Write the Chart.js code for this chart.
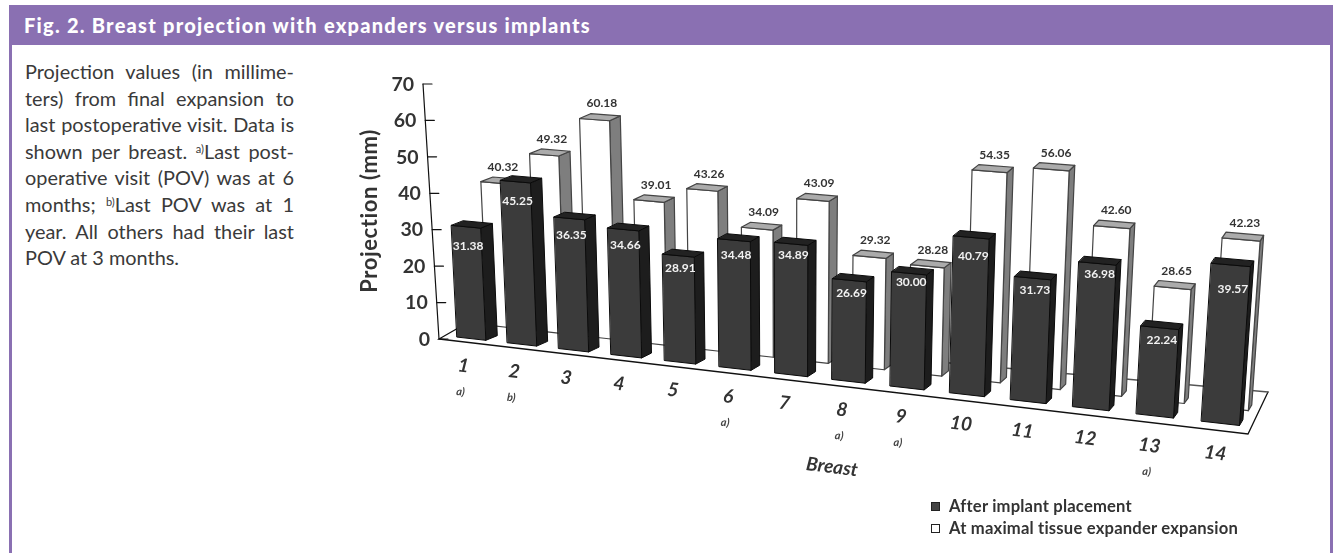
<!DOCTYPE html>
<html><head><meta charset="utf-8">
<script src="https://cdn.jsdelivr.net/npm/chart.js@4"></script>
<style>
html,body{margin:0;padding:0;background:#fff;width:1335px;height:553px;overflow:hidden;font-family:Lato,sans-serif;color:#333}
#frame{position:absolute;left:9px;top:5px;width:1324px;height:560px;box-sizing:border-box;border-left:3px solid #8a70b2;border-right:3px solid #8a70b2}
#head{position:absolute;left:9px;top:5px;width:1324px;height:40px;background:#8a70b2;color:#fff;font-weight:900;font-size:20px;line-height:40px;letter-spacing:1.25px;text-indent:15px}
#note{position:absolute;left:25px;top:58px;width:269px;font-size:19.9px;line-height:26.6px;color:#3a3a3a}
#note div{text-align:justify;text-align-last:justify;white-space:nowrap}
#note div.l{text-align-last:left}
#note sup{font-size:11px;line-height:0;vertical-align:6px}
canvas{position:absolute;left:0;top:0}
#legend{position:absolute;left:931px;top:495px;font-size:16.6px;font-weight:700;line-height:22px;color:#333;letter-spacing:.2px}
#legend i{display:inline-block;width:7px;height:7px;border:1px solid #222;margin-right:9px;vertical-align:1px}
</style></head><body>
<div id="frame"></div>
<div id="head">Fig. 2. Breast projection with expanders versus implants</div>
<div id="note">
<div>Projection values (in millime-</div>
<div>ters) from final expansion to</div>
<div>last postoperative visit. Data is</div>
<div>shown per breast. <sup>a)</sup>Last post-</div>
<div>operative visit (POV) was at 6</div>
<div>months; <sup>b)</sup>Last POV was at 1</div>
<div>year. All others had their last</div>
<div class="l">POV at 3 months.</div>
</div>
<canvas id="c" width="1335" height="553"></canvas>
<div id="legend">
<div><i style="background:#444"></i>After implant placement</div>
<div><i style="background:#fff"></i>At maximal tissue expander expansion</div>
</div>
<script>
const breasts = ["1","2","3","4","5","6","7","8","9","10","11","12","13","14"];
const footnotes = ["a)","b)","","","","a)","","a)","a)","","","","a)",""];
const afterImplant = [31.38,45.25,36.35,34.66,28.91,34.48,34.89,26.69,30.00,40.79,31.73,36.98,22.24,39.57];
const atExpansion = [40.32,49.32,60.18,39.01,43.26,34.09,43.09,29.32,28.28,54.35,56.06,42.60,28.65,42.23];
const yTicks = [0,10,20,30,40,50,60,70];

/* view settings of the pseudo-3D projection */
const labelDrop = [21,21,18,17,14,16,13,14,10,20,14,12,14,26];
const FL=[439,339],FR=[1248,434],BR=[1268,392],BL=[473,319.5];
const FONT='Lato, sans-serif';
const C=0.14, SHIFT=0.0025, INSET=0.17, DEPTH=0.33, BACK=0.85, VX=790, VY=7000;
const warp=u=>u*(1-C)/(1-C*u);
const lerp=(a,b,t)=>a+(b-a)*t;

const projector3D={
  id:'projector3D',
  beforeDatasetsDraw(chart){
    const {ctx,chartArea:A,scales:{x:xs,y:ys}}=chart;
    const W=A.right-A.left;
    const frontL=[lerp(FL[0],BL[0],INSET),lerp(FL[1],BL[1],INSET)];
    const frontR=[lerp(FR[0],BR[0],INSET),lerp(FR[1],BR[1],INSET)];
    function pt(u,d,h){
      const f=warp(u);
      const bx=lerp(frontL[0],frontR[0],f)+d*lerp(36,10,f);
      const by=lerp(frontL[1],frontR[1],f)+d*lerp(-14,-17.5,f);
      const hh=h*(0.975+0.129*f);
      return [bx+(bx-VX)*hh/(VY-by),by-hh];
    }
    const poly=(pts,fill,stroke,lw)=>{
      ctx.beginPath();pts.forEach((p,i)=>i?ctx.lineTo(p[0],p[1]):ctx.moveTo(p[0],p[1]));ctx.closePath();
      ctx.fillStyle=fill;ctx.fill();
      if(stroke){ctx.strokeStyle=stroke;ctx.lineWidth=lw;ctx.lineJoin='round';ctx.stroke();}
    };
    function prism(el,d0,cols){
      const uL=(el.x-el.width/2-A.left)/W+SHIFT,uR=(el.x+el.width/2-A.left)/W+SHIFT,h=el.base-el.y,d1=d0+DEPTH;
      poly([pt(uR,d0,0),pt(uR,d1,0),pt(uR,d1,h),pt(uR,d0,h)],cols.side,cols.line,cols.lw);
      poly([pt(uL,d0,0),pt(uR,d0,0),pt(uR,d0,h),pt(uL,d0,h)],cols.front,cols.line,cols.lw);
      poly([pt(uL,d0,h),pt(uR,d0,h),pt(uR,d1,h),pt(uL,d1,h)],cols.top,cols.line,cols.lw);
      return {tl:pt(uL,d0,h),tr:pt(uR,d0,h),bl:pt(uL,d0,0),br:pt(uR,d0,0),backR:pt(uR,d1,h),backL:pt(uL,d1,h)};
    }
    ctx.save();
    /* floor */
    ctx.lineCap='round';
    ctx.strokeStyle='#111';ctx.lineWidth=1.3;
    ctx.beginPath();ctx.moveTo(...BL);ctx.lineTo(...FL);ctx.lineTo(...FR);ctx.lineTo(...BR);ctx.stroke();
    ctx.strokeStyle='#555';ctx.lineWidth=1.6;
    ctx.beginPath();ctx.moveTo(...BL);ctx.lineTo(...BR);ctx.stroke();
    /* y axis */
    const y0=ys.getPixelForValue(0),lean=16/(y0-ys.getPixelForValue(70));
    const ax=v=>FL[0]-(y0-ys.getPixelForValue(v))*lean;
    ctx.strokeStyle='#111';ctx.lineWidth=1.2;
    ctx.beginPath();ctx.moveTo(FL[0],y0);ctx.lineTo(ax(70),ys.getPixelForValue(70));ctx.stroke();
    ctx.fillStyle='#333';ctx.font='700 19.5px '+FONT;ctx.textAlign='right';ctx.textBaseline='middle';
    yTicks.forEach(v=>{
      const y=ys.getPixelForValue(v),x=ax(v);
      ctx.beginPath();ctx.moveTo(x,y);ctx.lineTo(x+9,y);ctx.stroke();
      ctx.fillText(String(v),x-9,y+0.5);
    });
    ctx.save();ctx.translate(370,211);ctx.rotate(-Math.PI/2);ctx.textAlign='center';
    ctx.font='700 22px '+FONT;ctx.letterSpacing='0.6px';ctx.fillText('Projection (mm)',0,0);ctx.restore();
    /* x tick labels */
    chart.getDatasetMeta(1).data.forEach((el,i)=>{
      const u=(el.x-A.left)/W+SHIFT,p=pt(u,0,0),f=warp(u);
      const lx=p[0]-8+f*3,ly=p[1]+lerp(27,30,f);
      ctx.save();ctx.translate(lx,ly);ctx.rotate(7*Math.PI/180);
      ctx.font='italic 700 19px '+FONT;ctx.textAlign='center';ctx.fillStyle='#333';
      ctx.fillText(breasts[i],0,0);ctx.restore();
      if(footnotes[i]){
        ctx.save();ctx.translate(lx-3,ly+26);ctx.rotate(5*Math.PI/180);
        ctx.font='italic 700 11px '+FONT;ctx.textAlign='center';ctx.fillStyle='#444';
        ctx.fillText(footnotes[i],0,0);ctx.restore();
      }
    });
    ctx.save();ctx.translate(832,467);ctx.rotate(7*Math.PI/180);ctx.textAlign='center';
    ctx.font='italic 700 19px '+FONT;ctx.fillStyle='#333';ctx.fillText('Breast',0,0);ctx.restore();
    /* bars: back series, then front series */
    const whiteCols={front:'#fff',side:'#7e7e7e',top:'#ababab',line:'#444',lw:1.2};
    const darkCols={front:'#3b3b3b',side:'#1d1d1d',top:'#222',line:'#0a0a0a',lw:1};
    const backTops=chart.getDatasetMeta(0).data.map(el=>prism(el,BACK,whiteCols));
    const frontTops=chart.getDatasetMeta(1).data.map(el=>prism(el,0,darkCols));
    /* value labels */
    ctx.textAlign='center';ctx.textBaseline='middle';ctx.font='700 12px '+FONT;
    ctx.fillStyle='#333';
    backTops.forEach((t,i)=>ctx.fillText(atExpansion[i].toFixed(2),(t.tl[0]+t.backR[0])/2+2,t.tl[1]-15));
    ctx.fillStyle='#f2f2f2';
    frontTops.forEach((t,i)=>ctx.fillText(afterImplant[i].toFixed(2),(t.tl[0]+t.tr[0])/2+2,t.tl[1]+labelDrop[i]));
    ctx.restore();
    return false;
  }
};

new Chart(document.getElementById('c'),{
  type:'bar',
  data:{labels:breasts,datasets:[
    {label:'At maximal tissue expander expansion',data:atExpansion,backgroundColor:'#fff',borderColor:'#444',grouped:false},
    {label:'After implant placement',data:afterImplant,backgroundColor:'#3b3b3b',borderColor:'#0a0a0a',grouped:false}
  ]},
  options:{
    responsive:false,animation:false,devicePixelRatio:1,
    layout:{padding:{left:439,right:87,top:84,bottom:214}},
    categoryPercentage:0.574,barPercentage:1,
    plugins:{legend:{display:false},tooltip:{enabled:false},title:{display:false}},
    scales:{
      x:{display:false,type:'category',grid:{display:false}},
      y:{display:false,min:0,max:70,ticks:{stepSize:10},grid:{display:false}}
    }
  },
  plugins:[projector3D]
});
</script>
</body></html>
